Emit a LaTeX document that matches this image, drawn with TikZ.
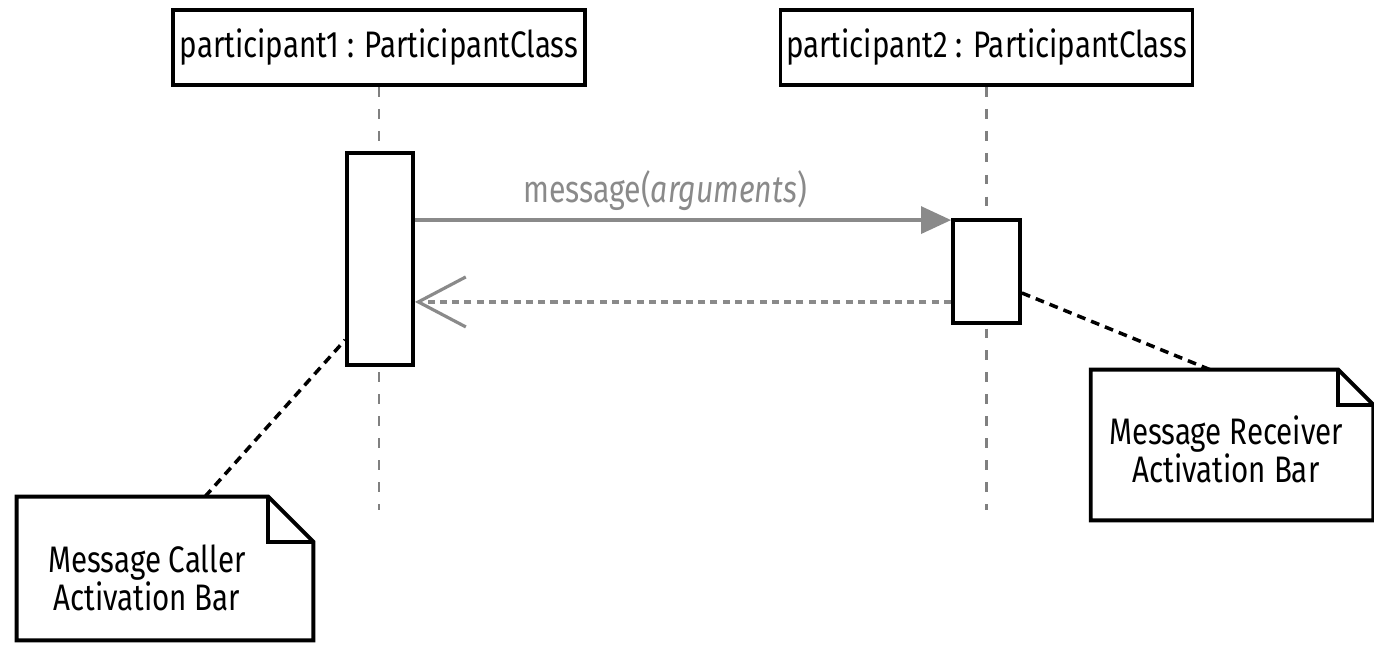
\documentclass[tikz,border=0pt]{standalone}
\usepackage{fontspec}
\setmainfont[FakeStretch=0.8]{Fira Sans}
\usetikzlibrary{arrows.meta,calc}
\definecolor{msggray}{HTML}{8A8A8A}
\definecolor{lifegray}{HTML}{808080}
\tikzset{
  partbox/.style={draw=black,line width=2.2pt,fill=white,minimum width=8.24cm,minimum height=1.5cm,inner sep=0pt,font=\fontsize{21}{22}\selectfont},
  actbar/.style={draw=black,line width=2.2pt,fill=white,inner sep=0pt},
  lifeline/.style={draw=lifegray,line width=1.7pt,dash pattern=on 5.5pt off 7pt},
  notebox/.style={inner sep=0pt,align=center},
  noteline/.style={draw=black,line width=2.2pt,line join=miter},
  anchorline/.style={draw=black,line width=2pt,dash pattern=on 5pt off 3.5pt},
  callmsg/.style={draw=msggray,line width=1.8pt,-{Triangle[length=0.6cm,width=0.54cm]}},
  retmsg/.style={draw=msggray,line width=1.8pt,dash pattern=on 4pt off 3pt,-{Straight Barb[length=0.95cm,width=1cm,line width=1.8pt]}},
}
\begin{document}
\begin{tikzpicture}[x=0.02cm,y=-0.02cm]
\useasboundingbox[fill=white] (0,0) rectangle (1374,646);
% participants
\node[partbox] (box1) at (379,47.5) {participant1 : ParticipantClass};
\node[partbox] (box2) at (986.5,47.5) {participant2 : ParticipantClass};
% lifeline ends
\coordinate (end1) at (box1.south |- 0,510);
\coordinate (end2) at (box2.south |- 0,510);
\draw[lifeline] (box1.south) -- (end1);
\draw[lifeline] (box2.south) -- (end2);
% activation bars
\node[actbar,minimum width=1.32cm,minimum height=4.24cm] (act1) at (380,259) {};
\node[actbar,minimum width=1.34cm,minimum height=2.06cm] (act2) at (986.5,271.5) {};
% messages
\coordinate (callR) at ([yshift=-0.04cm]act2.north west);
\coordinate (retR) at ([yshift=0.46cm]act2.south west);
\draw[callmsg] (act1.east |- callR) -- node[above=1pt,text=msggray,font=\fontsize{21.5}{24}\selectfont,xshift=-0.36cm] (lbl) {message(\textit{arguments})} (callR);
\draw[retmsg] (retR) -- (act1.east |- retR);
% notes
\node[notebox,minimum width=5.92cm,minimum height=2.86cm] (note1) at (165,568.5) {};
\draw[noteline,fill=white] (note1.north west) -- ([xshift=-0.9cm]note1.north east) -- ([yshift=-0.9cm]note1.north east) -- (note1.south east) -- (note1.south west) -- cycle;
\draw[noteline] ([xshift=-0.9cm]note1.north east) |- ([yshift=-0.9cm]note1.north east);
\node[notebox,font=\fontsize{21}{17}\selectfont] (t1) at (147,578) {Message Caller\\Activation Bar};
\node[notebox,minimum width=5.64cm,minimum height=3cm] (note2) at (1232,445) {};
\draw[noteline,fill=white] (note2.north west) -- ([xshift=-0.7cm]note2.north east) -- ([yshift=-0.7cm]note2.north east) -- (note2.south east) -- (note2.south west) -- cycle;
\draw[noteline] ([xshift=-0.7cm]note2.north east) |- ([yshift=-0.7cm]note2.north east);
\node[notebox,font=\fontsize{21}{21.5}\selectfont] (t2) at (1226,449) {Message Receiver\\Activation Bar};
% note anchors
\draw[anchorline] ([xshift=0.8cm]note1.north) -- ([yshift=-1.62cm]act1.west);
\draw[anchorline] ([yshift=-0.43cm]act2.east) -- ([xshift=-0.44cm]note2.north);
\end{tikzpicture}
\end{document}
